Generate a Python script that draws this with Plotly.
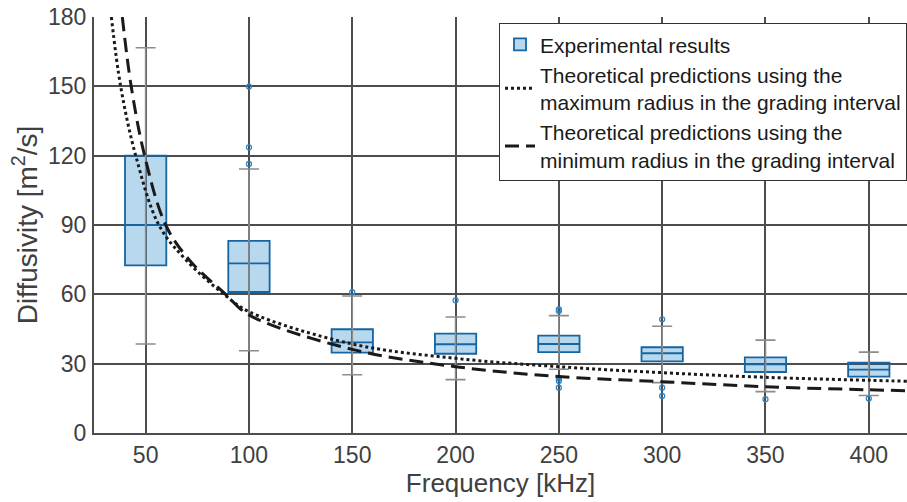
import plotly.graph_objects as go

# ---- data ----
freqs = [50, 100, 150, 200, 250, 300, 350, 400]
q1 = [72.5, 61.0, 34.8, 34.3, 35.0, 31.0, 26.4, 24.4]
median = [90.0, 73.4, 39.2, 38.4, 38.5, 34.5, 29.7, 27.4]
q3 = [120.0, 83.1, 44.9, 43.0, 42.1, 37.1, 32.7, 30.4]
whisker_low = [38.5, 35.6, 25.2, 23.1, 27.6, 21.8, 17.9, 16.2]
whisker_high = [166.7, 114.2, 59.3, 50.2, 50.8, 46.2, 40.2, 35.0]

outlier_freq = [100, 100, 100, 150, 200, 250, 250, 250, 250, 250, 300, 300, 300, 350, 400]
outlier_val = [149.9, 123.6, 116.4, 60.9, 57.4, 53.5, 52.8, 23.6, 22.5, 19.6, 49.2, 19.6, 16.0, 14.6, 14.9]

max_radius_freq = [33.4, 37.9, 45.2, 56.4, 69.4, 87.9, 100, 150, 200, 250, 300, 350, 400, 418.5]
max_radius_diff = [180, 150, 120, 90, 75, 60, 52.5, 38.5, 32.3, 28.7, 26.1, 24.1, 22.8, 22.4]
min_radius_freq = [38.7, 43.0, 49.5, 59.7, 71.0, 88.7, 100, 150, 200, 250, 300, 350, 400, 418.5]
min_radius_diff = [180, 150, 120, 90, 75, 60, 51.1, 36.2, 28.7, 24.4, 22.2, 20.0, 18.7, 18.3]

x_ticks = [50, 100, 150, 200, 250, 300, 350, 400]
y_ticks = [0, 30, 60, 90, 120, 150, 180]

FONT = "Liberation Sans, Arial, Helvetica, sans-serif"
TXT = "#404040"
GRID = "#4d4d4d"

fig = go.Figure()

# whiskers (gray) drawn beneath boxes
fig.add_trace(go.Scatter(
    x=freqs, y=median, mode="markers", marker=dict(size=0.1, color="rgba(0,0,0,0)"),
    error_y=dict(type="data", symmetric=False,
                 array=[h - m for h, m in zip(whisker_high, median)],
                 arrayminus=[m - l for m, l in zip(median, whisker_low)],
                 color="#8c8c8c", thickness=1.6, width=10),
    showlegend=False, hoverinfo="skip"))

fig.add_trace(go.Box(
    x=freqs, q1=q1, median=median, q3=q3,
    lowerfence=q1, upperfence=q3,
    width=20, whiskerwidth=0,
    fillcolor="rgba(0,114,189,0.28)",
    line=dict(color="#1565a3", width=1.8),
    boxpoints=False,
    name="Experimental results"))

fig.add_trace(go.Scatter(
    x=outlier_freq, y=outlier_val, mode="markers",
    marker=dict(symbol="circle-open", size=5, color="#2f86c6", line=dict(width=1.3)),
    showlegend=False))

fig.add_trace(go.Scatter(
    x=max_radius_freq, y=max_radius_diff, mode="lines",
    line=dict(color="#1a1a1a", width=3, dash="3px,3px", shape="spline", smoothing=1.0),
    name="Theoretical predictions using the<br>maximum radius in the grading interval"))

fig.add_trace(go.Scatter(
    x=min_radius_freq, y=min_radius_diff, mode="lines",
    line=dict(color="#1a1a1a", width=3, dash="14px,7px", shape="spline", smoothing=1.0),
    name="Theoretical predictions using the<br>minimum radius in the grading interval"))

fig.update_layout(
    width=907, height=502,
    margin=dict(l=94, r=0, t=17, b=69),
    paper_bgcolor="white", plot_bgcolor="white",
    font=dict(family=FONT, color=TXT, size=23),
    legend=dict(x=1, xanchor="right", y=0.985, yanchor="top",
                bgcolor="white", bordercolor="#333333", borderwidth=1,
                font=dict(size=21, color="#1a1a1a"),
                itemwidth=30, tracegroupgap=0),
    showlegend=True,
)
fig.update_xaxes(
    range=[25, 418.5], tickvals=x_ticks, ticktext=[str(v) for v in x_ticks],
    showgrid=True, gridcolor=GRID, gridwidth=2, zeroline=False,
    showline=True, linecolor=GRID, linewidth=2,
    ticks="", ticklabelstandoff=0,
    tickfont=dict(size=23, color=TXT),
    title=dict(text="Frequency [kHz]", font=dict(size=26, color=TXT), standoff=0))
fig.update_yaxes(
    range=[0, 180], tickvals=y_ticks, ticktext=[str(v) for v in y_ticks],
    showgrid=True, gridcolor=GRID, gridwidth=2, zeroline=False,
    showline=True, linecolor=GRID, linewidth=2,
    ticks="", ticklabelstandoff=1,
    tickfont=dict(size=23, color=TXT),
    title=dict(text="Diffusivity [m<sup>2</sup>/s]", font=dict(size=28, color=TXT), standoff=2))

fig.write_html("out.html")
